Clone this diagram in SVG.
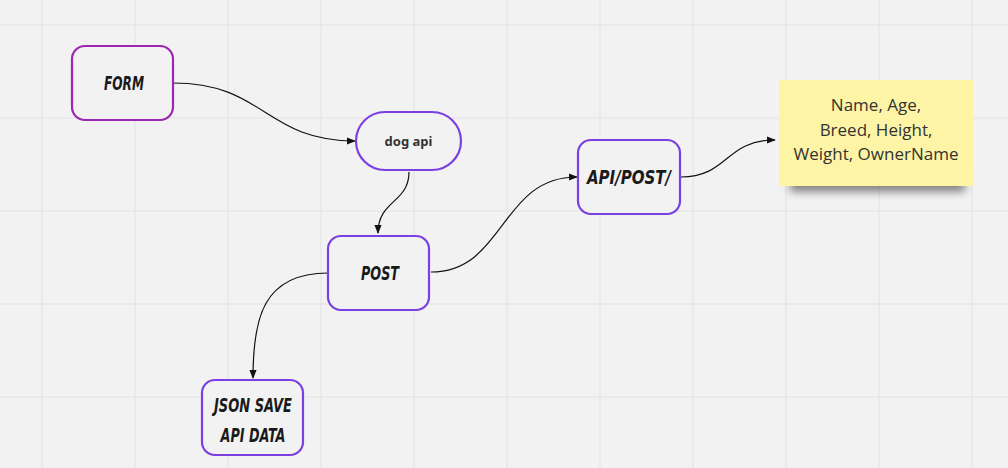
<svg xmlns="http://www.w3.org/2000/svg" width="1008" height="468" viewBox="0 0 1008 468">
<defs>
<style>
.grid{stroke:#e2e2e2;stroke-width:1}
.box{fill:#f2f2f2;stroke-width:2.2}
.p1{stroke:#9c27b0}
.p2{stroke:#7b3fe4}
.lbl{font-family:"DejaVu Sans Condensed","DejaVu Sans",sans-serif;font-weight:bold;font-style:italic;font-size:19px;fill:#1a1a1a;text-anchor:middle}
.conn{fill:none;stroke:#111;stroke-width:1.2;marker-end:url(#arr)}
.note{font-family:"Open Sans","Liberation Sans",sans-serif;font-size:17px;fill:#333;text-anchor:middle}
</style>
<marker id="arr" viewBox="0 0 10 10" refX="9" refY="5" markerWidth="9" markerHeight="9" markerUnits="userSpaceOnUse" orient="auto">
<path d="M0,1 L10,5 L0,9 Z" fill="#111"/>
</marker>
<filter id="sh" x="-20%" y="-20%" width="140%" height="160%">
<feGaussianBlur stdDeviation="4"/>
</filter>
</defs>
<rect width="1008" height="468" fill="#f2f2f2"/>
<g id="grid">
<path class="grid" d="M42,0V468M135,0V468M228,0V468M321,0V468M414,0V468M507,0V468M600,0V468M693,0V468M786,0V468M879,0V468M972,0V468M0,25H1008M0,118H1008M0,211H1008M0,304H1008M0,397H1008"/>
</g>
<g id="connectors">
<path class="conn" d="M173,83 C265,83 265,141 355,141"/>
<path class="conn" d="M409,172 C409,203 378,200 378,233"/>
<path class="conn" d="M431,272 C505,272 500,177 577,177"/>
<path class="conn" d="M681,177 C728,177 725,140 775,140"/>
<path class="conn" d="M328,273 C262,273 253,320 253,378"/>
</g>
<g id="form">
<rect class="box p1" x="72" y="46" width="101" height="74" rx="13"/>
<text class="lbl" x="124" y="90" textLength="40" lengthAdjust="spacingAndGlyphs">FORM</text>
</g>
<g id="dogapi">
<rect class="box p2" x="356" y="112" width="105" height="58" rx="29"/>
<text x="408.5" y="146" font-family="'Noto Sans','DejaVu Sans',sans-serif" font-weight="bold" font-size="13" fill="#333" text-anchor="middle">dog api</text>
</g>
<g id="post">
<rect class="box p2" x="328" y="236" width="101" height="74" rx="13"/>
<text class="lbl" x="380" y="280" textLength="38" lengthAdjust="spacingAndGlyphs">POST</text>
</g>
<g id="apipost">
<rect class="box p2" x="578" y="140" width="102" height="74" rx="13"/>
<text class="lbl" x="629" y="184" textLength="84" lengthAdjust="spacingAndGlyphs">API/POST/</text>
</g>
<g id="json">
<rect class="box p2" x="202" y="380" width="101" height="75" rx="13"/>
<text class="lbl" x="253" y="412" textLength="78" lengthAdjust="spacingAndGlyphs">JSON SAVE</text>
<text class="lbl" x="253" y="442" textLength="65" lengthAdjust="spacingAndGlyphs">API DATA</text>
</g>
<g id="sticky">
<rect x="790" y="170" width="175" height="22" fill="#000" opacity="0.45" filter="url(#sh)"/>
<rect x="779" y="80" width="194" height="106" fill="#fdf5a5"/>
<text class="note" x="876" y="111">Name, Age,</text>
<text class="note" x="876" y="136">Breed, Height,</text>
<text class="note" x="876" y="160">Weight, OwnerName</text>
</g>
</svg>
